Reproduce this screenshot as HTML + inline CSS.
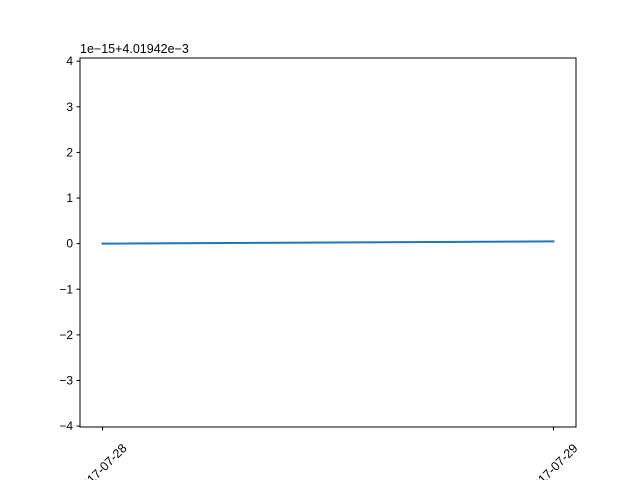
<!DOCTYPE html>
<html><head><meta charset="utf-8"><style>
body{margin:0;background:#fff}
svg{display:block;font-family:"Liberation Sans","WenQuanYi Zen Hei",sans-serif}
</style></head><body>
<svg id="chart" width="640" height="480" viewBox="0 0 640 480">
<rect width="640" height="480" fill="#fff"/>
<g id="g"></g>
</svg>
<script>
const categories = ["2017-07-28", "2017-07-29"];
const xValues = [0, 1];
const seriesValues = [0, 0.05];
const yTicks = [-4, -3, -2, -1, 0, 1, 2, 3, 4];
const yTickLabels = ["−4", "−3", "−2", "−1", "0", "1", "2", "3", "4"];
const offsetText = "1e−15+4.01942e−3";

const L=80,R=576,T=58,B=427;
const x=v=>L+(v+0.05)/1.1*(R-L);
const y=v=>B-(v+4.02)/(4.07+4.02)*(B-T);
const g=document.getElementById('g');
const NS='http://www.w3.org/2000/svg';
function mk(t,a,p){const e=document.createElementNS(NS,t);for(const k in a)e.setAttribute(k,a[k]);(p||g).appendChild(e);return e;}

const pts=xValues.map((v,i)=>x(v)+','+y(seriesValues[i])).join(' ');
const line=mk('polyline',{points:pts,fill:'none',stroke:'#1f77b4','stroke-width':2,'stroke-linecap':'square'});



const fr=mk('rect',{x:L,y:T,width:R-L,height:B-T,fill:'none',stroke:'#000','stroke-width':1});



yTicks.forEach((v,i)=>{
  const yy=y(v);
  const t=mk('line',{x1:L-3.5,x2:L,y1:yy,y2:yy,stroke:'#000'});
  
  
  const tx=mk('text',{x:L-7,y:yy+4,'text-anchor':'end','font-size':12});
  tx.textContent=yTickLabels[i];
  
  
});

categories.forEach((c,i)=>{
  const xx=x(xValues[i]);
  const t=mk('line',{x1:xx,x2:xx,y1:B,y2:B+3.5,stroke:'#000'});
  
  
  const tx=mk('text',{x:0,y:0,'text-anchor':'end','font-size':12.5,transform:`translate(${xx+25},${B+22}) rotate(-45)`});
  tx.textContent=c;
  
  
});

const ot=mk('text',{x:L,y:T-5,'font-size':12.5});
ot.textContent=offsetText;


</script>
</body></html>
